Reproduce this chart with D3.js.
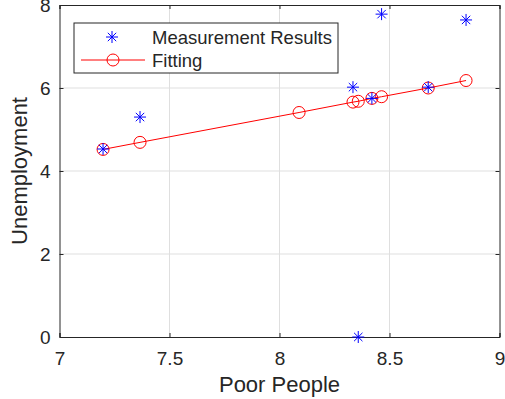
<!DOCTYPE html>
<html>
<head>
<meta charset="utf-8">
<script src="https://cdn.jsdelivr.net/npm/d3@7"></script>
<style>
  body { margin: 0; background: #fff; }
  text { font-family: "Liberation Sans", Arial, sans-serif; fill: #262626; }
</style>
</head>
<body>
<div id="chart"></div>
<script>
// poor people (x) for each observation
let poorPeople = [7.198, 7.366, 8.089, 8.334, 8.358, 8.42, 8.464, 8.676, 8.848];
// measured unemployment, null where the point falls outside the axes
let unemployment = [4.53, 5.30, null, 6.02, 0, 5.75, 7.78, 6.02, 7.64];
// fitted unemployment
let fitted = [4.52, 4.69, 5.41, 5.66, 5.68, 5.75, 5.79, 6.00, 6.18];

let xTicks = [7, 7.5, 8, 8.5, 9];
let yTicks = [0, 2, 4, 6, 8];
let legendNames = ["Measurement Results", "Fitting"];

let width = 505, height = 399;
let margin = {top: 5, right: 5.5, bottom: 62, left: 59.5};
let plotW = width - margin.left - margin.right;
let plotH = height - margin.top - margin.bottom;

let svg = d3.select("#chart").append("svg")
    .attr("width", width)
    .attr("height", height);

let xScale = d3.scaleLinear().domain([7, 9]).range([0, plotW]);
let yScale = d3.scaleLinear().domain([0, 8]).range([plotH, 0]);

// title, almost entirely above the window
svg.append("text")
    .attr("x", margin.left + plotW / 2)
    .attr("y", -4)
    .attr("text-anchor", "middle")
    .style("font-size", "20px")
    .style("font-weight", "bold")
    .style("fill", "#000")
    .text("Unemployment vs Poor People");

let g = svg.append("g").attr("transform", `translate(${margin.left},${margin.top})`);

g.append("rect").attr("width", plotW).attr("height", plotH).attr("fill", "#fff");

// grid
g.selectAll(".gx").data(xTicks.slice(1, -1)).enter().append("line")
    .attr("x1", d => xScale(d)).attr("x2", d => xScale(d))
    .attr("y1", 0).attr("y2", plotH)
    .attr("stroke", "#dfdfdf").attr("stroke-width", 1);
g.selectAll(".gy").data(yTicks.slice(1, -1)).enter().append("line")
    .attr("x1", 0).attr("x2", plotW)
    .attr("y1", d => yScale(d)).attr("y2", d => yScale(d))
    .attr("stroke", "#dfdfdf").attr("stroke-width", 1);

// axes (ticks inward, box on)
let xAxis = g.append("g").attr("transform", `translate(0,${plotH})`)
    .call(d3.axisBottom(xScale).tickValues(xTicks).tickSize(-4).tickPadding(13).tickFormat(d3.format("")));
let xTop = g.append("g")
    .call(d3.axisTop(xScale).tickValues(xTicks).tickSize(-4).tickFormat(""));
let yAxis = g.append("g")
    .call(d3.axisLeft(yScale).tickValues(yTicks).tickSize(-4).tickPadding(9).tickFormat(d3.format("")));
let yRight = g.append("g").attr("transform", `translate(${plotW},0)`)
    .call(d3.axisRight(yScale).tickValues(yTicks).tickSize(-4).tickFormat(""));

[xAxis, xTop, yAxis, yRight].forEach(a => {
    a.select(".domain").attr("stroke", "#262626").attr("stroke-width", 1);
    a.selectAll(".tick line").attr("stroke", "#262626");
    a.selectAll(".tick text").style("font-size", "19px").attr("fill", "#262626");
});
xAxis.selectAll(".tick text").attr("dy", "0.8em");

// fitted line
let line = d3.line().x((d, i) => xScale(poorPeople[i])).y(d => yScale(d));
g.append("path").datum(fitted)
    .attr("d", line)
    .attr("fill", "none")
    .attr("stroke", "#ff0000")
    .attr("stroke-width", 1);

g.selectAll(".fitc").data(fitted).enter().append("circle")
    .attr("cx", (d, i) => xScale(poorPeople[i]))
    .attr("cy", d => yScale(d))
    .attr("r", 6)
    .attr("fill", "none")
    .attr("stroke", "#ff0000")
    .attr("stroke-width", 1);

// star marker
function star(sel, s) {
    let p = `M${-s},0L${s},0M0,${-s}L0,${s}M${-s * 0.7},${-s * 0.7}L${s * 0.7},${s * 0.7}M${-s * 0.7},${s * 0.7}L${s * 0.7},${-s * 0.7}`;
    sel.append("path").attr("d", p).attr("stroke", "#0000ff").attr("stroke-width", 1).attr("fill", "none");
}

let measured = poorPeople.map((x, i) => ({x: x, y: unemployment[i]})).filter(d => d.y !== null);
measured.forEach(d => {
    let s = g.append("g").attr("transform", `translate(${xScale(d.x)},${yScale(d.y)})`);
    star(s, 6);
});

// legend
let lg = svg.append("g").attr("transform", "translate(74,23)");
lg.append("rect").attr("width", 264).attr("height", 50)
    .attr("fill", "#fff").attr("stroke", "#262626").attr("stroke-width", 1);
star(lg.append("g").attr("transform", "translate(38,14)"), 6);
lg.append("line").attr("x1", 7).attr("x2", 71).attr("y1", 37).attr("y2", 37)
    .attr("stroke", "#ff0000").attr("stroke-width", 1);
lg.append("circle").attr("cx", 39).attr("cy", 37).attr("r", 6)
    .attr("fill", "none").attr("stroke", "#ff0000");
lg.selectAll(".lt").data(legendNames).enter().append("text")
    .attr("x", 78).attr("y", (d, i) => 15 + i * 23)
    .attr("dy", "0.35em")
    .style("font-size", "18.5px")
    .attr("fill", "#000")
    .text(d => d);

// axis labels
svg.append("text")
    .attr("x", margin.left + plotW / 2)
    .attr("y", 392)
    .attr("text-anchor", "middle")
    .style("font-size", "22px")
    .text("Poor People");
svg.append("text")
    .attr("transform", `translate(27,${margin.top + plotH / 2}) rotate(-90)`)
    .attr("text-anchor", "middle")
    .style("font-size", "22px")
    .text("Unemployment");
</script>
</body>
</html>
